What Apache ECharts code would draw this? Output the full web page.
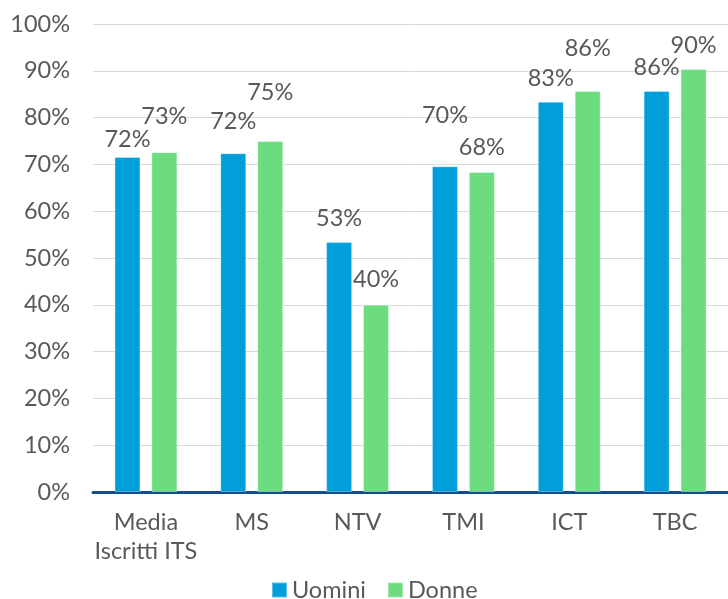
<!DOCTYPE html>
<html>
<head>
<meta charset="utf-8">
<script src="https://cdn.jsdelivr.net/npm/echarts@6/dist/echarts.min.js"></script>
<style>
	html, body { margin: 0; padding: 0; background: #fff; }
	#chart { width: 728px; height: 599px; }
</style>
</head>
<body>
<div id="chart"></div>
<script>
const categories = ["Media\nIscritti ITS", "MS", "NTV", "TMI", "ICT", "TBC"];
const uomini = [71.6, 72.4, 53.4, 69.6, 83.4, 85.7];
const donne = [72.6, 75.0, 40.0, 68.4, 85.7, 90.4];

// extra lift of each value label, as hand-placed in the original
const liftUomini = [-7, 8, 0, 27, -1, 0];
const liftDonne = [12, 25, 1, 0, 19, 0];

const textColor = "#595959";
const font = "Lato, 'Noto Sans', sans-serif";
const fontSize = 23.5;
const baseDistance = 12;

function withLabels(values, lifts) {
	return values.map((v, i) => ({
		value: v,
		label: { distance: baseDistance + lifts[i] }
	}));
}

const chart = echarts.init(document.getElementById("chart"));

const labelStyle = {
	show: true,
	position: "top",
	distance: baseDistance,
	fontFamily: font,
	fontSize: fontSize,
	color: textColor,
	formatter: (p) => Math.round(p.value) + "%"
};

const option = {
	animation: false,
	textStyle: { fontFamily: font },
	grid: {
		left: 93,
		right: 0,
		top: 24,
		bottom: 107
	},
	legend: {
		left: 266,
		top: 573,
		itemWidth: 15,
		itemHeight: 15,
		itemGap: 21,
		icon: "rect",
		textStyle: {
			fontFamily: font,
			fontSize: fontSize,
			color: textColor
		},
		data: ["Uomini", "Donne"]
	},
	xAxis: {
		type: "category",
		data: categories,
		axisTick: { show: false },
		axisLine: {
			lineStyle: { color: "#134c8f", width: 3 }
		},
		axisLabel: {
			interval: 0,
			margin: 16,
			fontFamily: font,
			fontSize: fontSize,
			lineHeight: 29,
			color: textColor
		}
	},
	yAxis: {
		type: "value",
		min: 0,
		max: 100,
		interval: 10,
		axisLine: { show: false },
		axisTick: { show: false },
		splitLine: {
			lineStyle: { color: "#d9d9d9", width: 1 }
		},
		axisLabel: {
			margin: 23,
			fontFamily: font,
			fontSize: fontSize,
			color: textColor,
			formatter: "{value}%"
		}
	},
	series: [
		{
			name: "Uomini",
			type: "bar",
			barWidth: 26,
			barGap: "42%",
			itemStyle: {
				color: "#009fda",
				borderColor: "rgba(255,255,255,0.35)",
				borderWidth: 1
			},
			label: labelStyle,
			data: withLabels(uomini, liftUomini)
		},
		{
			name: "Donne",
			type: "bar",
			barWidth: 26,
			itemStyle: {
				color: "#6cdc7e",
				borderColor: "rgba(255,255,255,0.35)",
				borderWidth: 1
			},
			label: labelStyle,
			data: withLabels(donne, liftDonne)
		}
	]
};

option && chart.setOption(option);
</script>
</body>
</html>
